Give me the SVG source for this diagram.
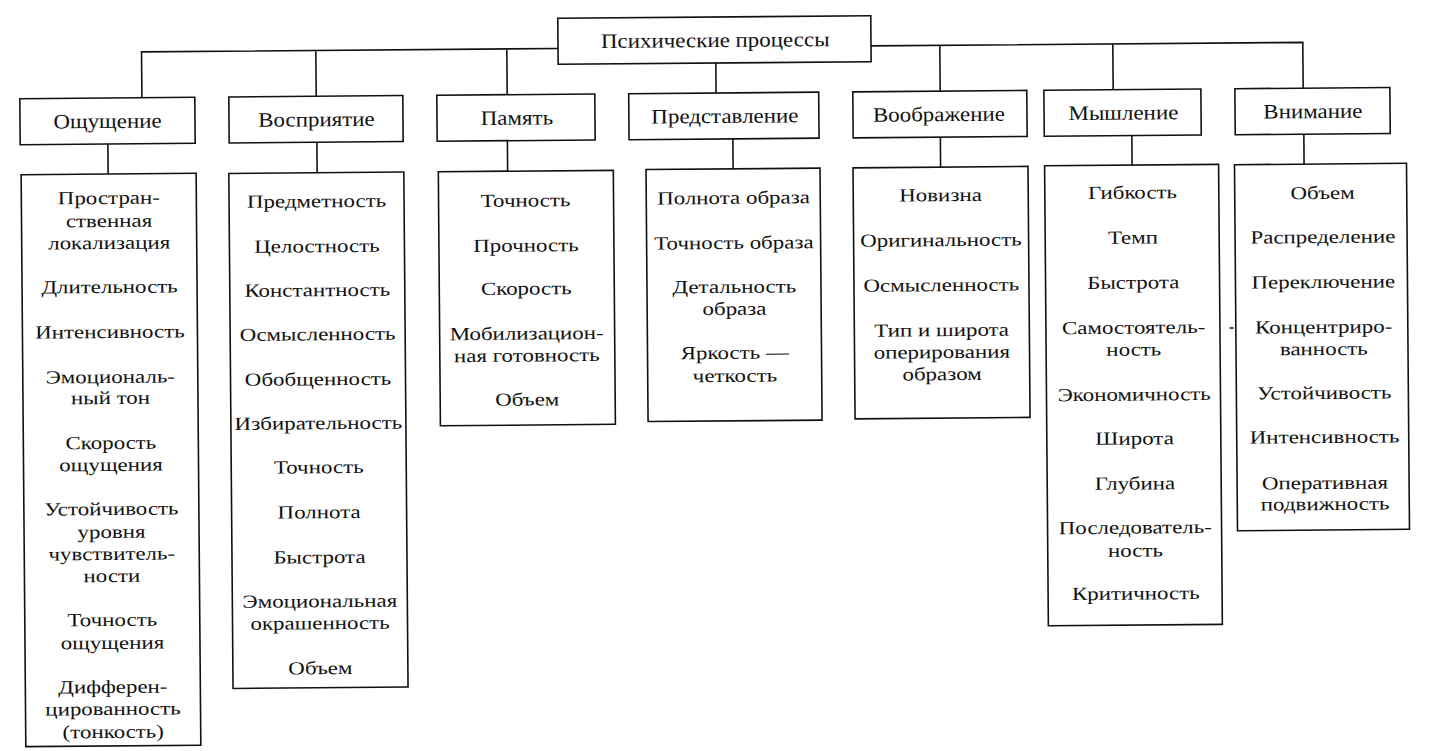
<svg xmlns="http://www.w3.org/2000/svg" width="1429" height="751" viewBox="0 0 1429 751">
<style>
.box{fill:#fff;stroke:#111;stroke-width:1.6}
.ln{fill:none;stroke:#111;stroke-width:1.6}
.t1{font-family:"Liberation Serif","Times New Roman",serif;font-size:20.5px;fill:#111;text-anchor:middle}
.t2{font-family:"Liberation Serif","Times New Roman",serif;font-size:18.5px;fill:#111;text-anchor:middle}
</style>
<rect width="1429" height="751" fill="#fff"/>
<g transform="rotate(-0.47 714 375)">
<g id="connectors">
<path class="ln" d="M144.2 93V47.2H560.7M873.7 47.2H1305.5V93M318.5 47.2V93M509.5 47.2V93M942.5 47.2V93M1115.5 47.2V93M718.4 63V93"/>
<path class="ln" d="M109.8 139V169M318.8 139V169.5M509.3 139V169.5M734.8 139V169M942.3 139V169M1133.8 139V168.5M1305.8 139V169"/>
<path class="ln" d="M251.5 534.2H257.5M1230 332.2H1234"/>
</g>
<g id="root"><rect class="box" x="560.7" y="17" width="313" height="46"/><g transform="translate(718 0) scale(1.12 1)"><text class="t1" x="0" y="47">Психические процессы</text></g></g>

<g id="n1"><rect class="box" x="22.1" y="93" width="175" height="46"/><g transform="translate(109.6 0) scale(1.12 1)"><text class="t1" x="0" y="123">Ощущение</text></g></g>
<g id="n2"><rect class="box" x="231.1" y="93" width="174" height="46"/><g transform="translate(318.5 0) scale(1.12 1)"><text class="t1" x="0" y="123">Восприятие</text></g></g>
<g id="n3"><rect class="box" x="439.1" y="93" width="158" height="46"/><g transform="translate(519 0) scale(1.12 1)"><text class="t1" x="0" y="123">Память</text></g></g>
<g id="n4"><rect class="box" x="631" y="93" width="190" height="46"/><g transform="translate(727 0) scale(1.12 1)"><text class="t1" x="0" y="123">Представление</text></g></g>
<g id="n5"><rect class="box" x="855.1" y="93" width="174" height="46"/><g transform="translate(941 0) scale(1.12 1)"><text class="t1" x="0" y="123">Воображение</text></g></g>
<g id="n6"><rect class="box" x="1046.2" y="93" width="157" height="46"/><g transform="translate(1125.5 0) scale(1.12 1)"><text class="t1" x="0" y="123">Мышление</text></g></g>
<g id="n7"><rect class="box" x="1237.2" y="93" width="155" height="46"/><g transform="translate(1315 0) scale(1.12 1)"><text class="t1" x="0" y="123">Внимание</text></g></g>

<g id="d1"><rect class="box" x="22.8" y="169" width="175" height="572"/><g transform="translate(110.3 0) scale(1.24 1)">
<text class="t2" x="0" y="199">Простран-</text><text class="t2" x="0" y="222">ственная</text><text class="t2" x="0" y="244">локализация</text>
<text class="t2" x="0" y="288">Длительность</text><text class="t2" x="0" y="333">Интенсивность</text>
<text class="t2" x="0" y="378">Эмоциональ-</text><text class="t2" x="0" y="399">ный тон</text>
<text class="t2" x="0" y="444">Скорость</text><text class="t2" x="0" y="466">ощущения</text>
<text class="t2" x="0" y="510">Устойчивость</text><text class="t2" x="0" y="533">уровня</text><text class="t2" x="0" y="555">чувствитель-</text><text class="t2" x="0" y="577">ности</text>
<text class="t2" x="0" y="621">Точность</text><text class="t2" x="0" y="644">ощущения</text>
<text class="t2" x="0" y="688">Дифферен-</text><text class="t2" x="0" y="710">цированность</text><text class="t2" x="0" y="733">(тонкость)</text>
</g></g>

<g id="d2"><rect class="box" x="230.5" y="169.5" width="175" height="515"/><g transform="translate(318 0) scale(1.24 1)">
<text class="t2" x="0" y="204">Предметность</text><text class="t2" x="0" y="249">Целостность</text><text class="t2" x="0" y="293">Константность</text>
<text class="t2" x="0" y="337">Осмысленность</text><text class="t2" x="0" y="382">Обобщенность</text><text class="t2" x="0" y="426">Избирательность</text>
<text class="t2" x="0" y="470">Точность</text><text class="t2" x="0" y="515">Полнота</text><text class="t2" x="0" y="560">Быстрота</text>
<text class="t2" x="0" y="604">Эмоциональная</text><text class="t2" x="0" y="626">окрашенность</text><text class="t2" x="0" y="671">Объем</text>
</g></g>

<g id="d3"><rect class="box" x="440" y="169.5" width="175" height="254"/><g transform="translate(527 0) scale(1.24 1)">
<text class="t2" x="0" y="205">Точность</text><text class="t2" x="0" y="250">Прочность</text><text class="t2" x="0" y="293">Скорость</text>
<text class="t2" x="0" y="338">Мобилизацион-</text><text class="t2" x="0" y="360">ная готовность</text><text class="t2" x="0" y="404">Объем</text>
</g></g>

<g id="d4"><rect class="box" x="647.7" y="169" width="174" height="252"/><g transform="translate(735 0) scale(1.24 1)">
<text class="t2" x="0" y="204">Полнота образа</text><text class="t2" x="0" y="249">Точность образа</text>
<text class="t2" x="0" y="293">Детальность</text><text class="t2" x="0" y="315">образа</text>
<text class="t2" x="0" y="359">Яркость —</text><text class="t2" x="0" y="382">четкость</text>
</g></g>

<g id="d5"><rect class="box" x="854.7" y="169" width="175" height="251"/><g transform="translate(942 0) scale(1.24 1)">
<text class="t2" x="0" y="203">Новизна</text><text class="t2" x="0" y="248">Оригинальность</text><text class="t2" x="0" y="293">Осмысленность</text>
<text class="t2" x="0" y="338">Тип и широта</text><text class="t2" x="0" y="360">оперирования</text><text class="t2" x="0" y="382">образом</text>
</g></g>

<g id="d6"><rect class="box" x="1046.3" y="168.5" width="174" height="460"/><g transform="translate(1134 0) scale(1.24 1)">
<text class="t2" x="0" y="202">Гибкость</text><text class="t2" x="0" y="247">Темп</text><text class="t2" x="0" y="292">Быстрота</text>
<text class="t2" x="0" y="337">Самостоятель-</text><text class="t2" x="0" y="359">ность</text><text class="t2" x="0" y="404">Экономичность</text>
<text class="t2" x="0" y="448">Широта</text><text class="t2" x="0" y="493">Глубина</text>
<text class="t2" x="0" y="537">Последователь-</text><text class="t2" x="0" y="560">ность</text><text class="t2" x="0" y="603">Критичность</text>
</g></g>

<g id="d7"><rect class="box" x="1236.2" y="169" width="172" height="366"/><g transform="translate(1324 0) scale(1.24 1)">
<text class="t2" x="0" y="204">Объем</text><text class="t2" x="0" y="248">Распределение</text><text class="t2" x="0" y="293">Переключение</text>
<text class="t2" x="0" y="338">Концентриро-</text><text class="t2" x="0" y="360">ванность</text><text class="t2" x="0" y="404">Устойчивость</text>
<text class="t2" x="0" y="448">Интенсивность</text><text class="t2" x="0" y="494">Оперативная</text><text class="t2" x="0" y="515">подвижность</text>
</g></g>
</g>
</svg>
